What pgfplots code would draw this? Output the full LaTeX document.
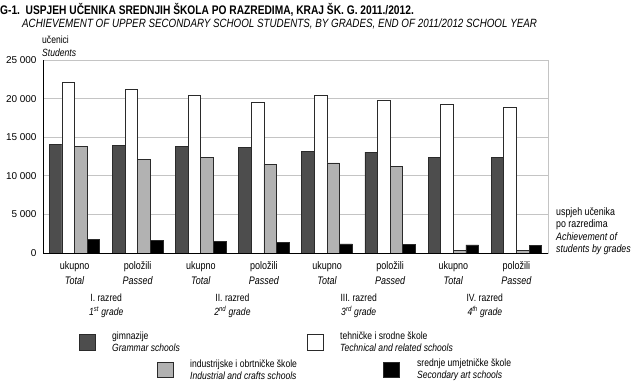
\documentclass[border=0pt]{standalone}
\usepackage{pgfplots}
\pgfplotsset{compat=1.18}
\usepackage{fontspec}
\setmainfont{Liberation Sans}[FakeStretch=0.82]
\newfontfamily\tickfont{Liberation Sans}
\definecolor{darkg}{HTML}{4D4D4D}
\definecolor{lightg}{HTML}{B2B2B2}
\definecolor{edge}{HTML}{2A2A2A}
\definecolor{gridc}{HTML}{C4C4C4}
\begin{document}
\begin{tikzpicture}[x=1bp,y=1bp]
\path[use as bounding box] (0,0) rectangle (633,-383);
\begin{axis}[
  at={(43bp,-253bp)}, anchor=south west, scale only axis,
  width=505bp, height=193bp,
  xmin=-0.5, xmax=7.5, ymin=0, ymax=25000,
  scaled y ticks=false,
  ybar, bar width=0.2,
  axis line style={gridc, line width=0.8pt},
  ymajorgrids, grid style={gridc, line width=1pt},
  major tick length=0pt,
  ytick={0,5000,10000,15000,20000,25000},
  yticklabels={0,5 000,10 000,15 000,20 000,25 000},
  yticklabel style={font=\tickfont\fontsize{10}{12}\selectfont, xshift=-3bp},
  xtick={0,...,7},
  xticklabels={{ukupno\\\textit{Total}},{položili\\\textit{Passed}},
               {ukupno\\\textit{Total}},{položili\\\textit{Passed}},
               {ukupno\\\textit{Total}},{položili\\\textit{Passed}},
               {ukupno\\\textit{Total}},{položili\\\textit{Passed}}},
  xticklabel style={align=center, font=\fontsize{11}{15}\selectfont, yshift=-5bp},
  every axis plot/.append style={draw=edge, line width=0.8pt},
]
\addplot[fill=darkg, bar shift=-0.3] coordinates {(0,14100) (1,13930) (2,13750) (3,13620) (4,13150) (5,13060) (6,12410) (7,12400)};
\addplot[fill=white, bar shift=-0.1] coordinates {(0,22050) (1,21140) (2,20410) (3,19550) (4,20360) (5,19770) (6,19250) (7,18900)};
\addplot[fill=lightg, bar shift=0.1] coordinates {(0,13840) (1,12150) (2,12410) (3,11500) (4,11670) (5,11250) (6,350) (7,320)};
\addplot[fill=black, bar shift=0.3] coordinates {(0,1810) (1,1650) (2,1520) (3,1390) (4,1170) (5,1090) (6,1040) (7,960)};
\draw[black, line width=0.8pt] (rel axis cs:0,1) -- (rel axis cs:0,0) -- (rel axis cs:1,0);
\end{axis}
% titles
\node[anchor=base west, inner sep=0] at (0,-14.5) {\fontsize{12.5}{14}\selectfont\bfseries G-1.\ \ USPJEH UČENIKA SREDNJIH ŠKOLA PO RAZREDIMA, KRAJ ŠK. G. 2011./2012.};
\node[anchor=base west, inner sep=0] at (22,-27) {\fontsize{12}{14}\selectfont\itshape ACHIEVEMENT OF UPPER SECONDARY SCHOOL STUDENTS, BY GRADES, END OF 2011/2012 SCHOOL YEAR};
\node[anchor=base west, inner sep=0, align=left] at (42,-43.5) {\fontsize{10.5}{12}\selectfont učenici};
\node[anchor=base west, inner sep=0, align=left] at (42,-56.5) {\fontsize{10.5}{12}\selectfont\itshape Students};
% grade labels
\foreach \x/\a/\b in {106.2/I./1\textsuperscript{st}, 232.4/II./2\textsuperscript{nd}, 358.7/III./3\textsuperscript{rd}, 484.8/IV./4\textsuperscript{th}}{
  \node[anchor=base, inner sep=0] at (\x,-301) {\fontsize{10.5}{12}\selectfont \a\ razred};
  \node[anchor=base, inner sep=0] at (\x,-315) {\fontsize{10.5}{12}\selectfont\itshape \b\ grade};
}
% right label
\node[anchor=north west, inner sep=0, align=left, font=\fontsize{10.8}{12.6}\selectfont] at (556,-207) {uspjeh učenika\\po razredima\\\textit{Achievement of}\\\textit{students by grades}};
% legend
\draw[edge, fill=darkg, line width=0.8pt] (79,-334) rectangle (95,-350);
\node[anchor=west, inner sep=0, align=left, font=\fontsize{10.5}{12.5}\selectfont] at (112,-342) {gimnazije\\\textit{Grammar schools}};
\draw[edge, fill=white, line width=0.8pt] (307,-334) rectangle (323,-350);
\node[anchor=west, inner sep=0, align=left, font=\fontsize{10.5}{12.5}\selectfont] at (340,-342) {tehničke i srodne škole\\\textit{Technical and related schools}};
\draw[edge, fill=lightg, line width=0.8pt] (157,-362) rectangle (173,-377);
\node[anchor=west, inner sep=0, align=left, font=\fontsize{10.5}{12.5}\selectfont] at (190,-370) {industrijske i obrtničke škole\\\textit{Industrial and crafts schools}};
\draw[edge, fill=black, line width=0.8pt] (383,-362) rectangle (399,-377);
\node[anchor=west, inner sep=0, align=left, font=\fontsize{10.5}{12.5}\selectfont] at (417,-370) {srednje umjetničke škole\\\textit{Secondary art schools}};
\end{tikzpicture}
\end{document}
